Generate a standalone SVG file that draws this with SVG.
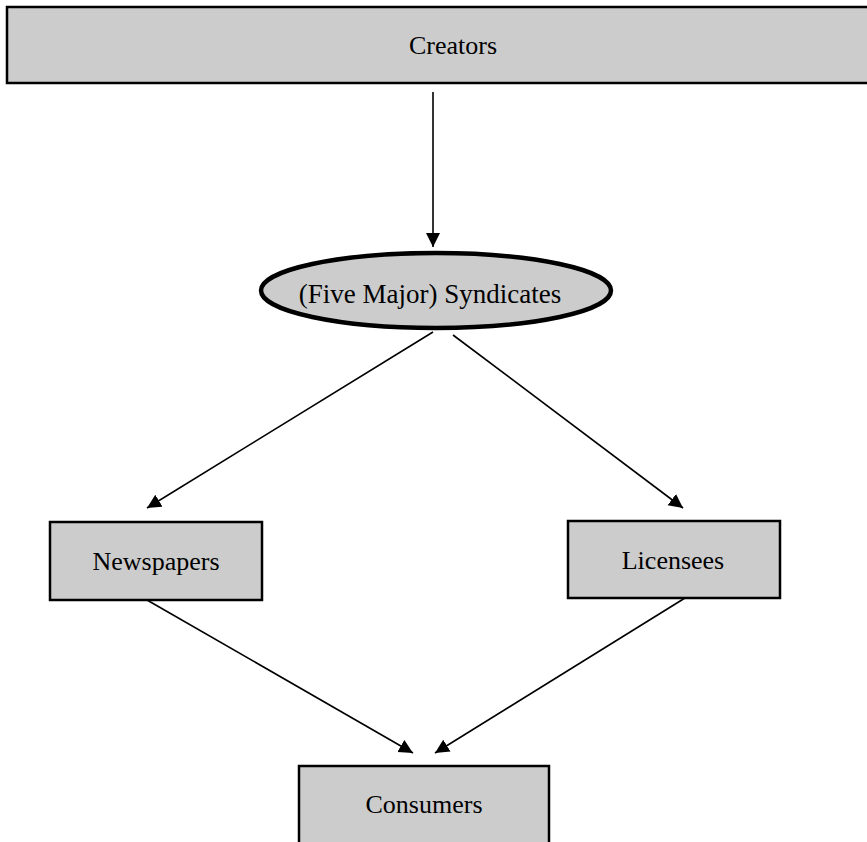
<svg xmlns="http://www.w3.org/2000/svg" width="867" height="842" viewBox="0 0 867 842">
<style>
.box{fill:#cccccc;stroke:#000;stroke-width:2.5}
.lbl{font-family:"Liberation Serif","Times New Roman",serif;font-size:26px;fill:#000;text-anchor:middle}
.conn{stroke:#000;stroke-width:1.6;fill:none;marker-end:url(#ah)}
</style>
<defs>
<marker id="ah" markerUnits="userSpaceOnUse" markerWidth="15" markerHeight="15" viewBox="0 0 15 15" refX="14" refY="7" orient="auto">
<path d="M0,0 L14,7 L0,14 z" fill="#000"/>
</marker>
</defs>
<rect width="867" height="842" fill="#fff"/>
<g id="connectors">
<line class="conn" x1="433" y1="92" x2="433" y2="247"/>
<line class="conn" x1="433" y1="332" x2="147" y2="508"/>
<line class="conn" x1="453" y1="335" x2="683" y2="508"/>
<line class="conn" x1="147" y1="600" x2="413" y2="753"/>
<line class="conn" x1="685" y1="598" x2="435" y2="753"/>
</g>
<g id="creators">
<rect class="box" x="7" y="7" width="875" height="76" stroke-width="3"/>
<text class="lbl" x="453" y="54">Creators</text>
</g>
<g id="syndicates">
<ellipse cx="436" cy="290.5" rx="175" ry="37.5" fill="#cccccc" stroke="#000" stroke-width="4.5"/>
<text class="lbl" x="430" y="303" style="font-size:27px">(Five Major) Syndicates</text>
</g>
<g id="newspapers">
<rect class="box" x="50" y="522" width="212" height="78"/>
<text class="lbl" x="156" y="570">Newspapers</text>
</g>
<g id="licensees">
<rect class="box" x="568" y="521" width="212" height="77"/>
<text class="lbl" x="673" y="569">Licensees</text>
</g>
<g id="consumers">
<rect class="box" x="299" y="766" width="250" height="90"/>
<text class="lbl" x="424" y="813">Consumers</text>
</g>
</svg>
